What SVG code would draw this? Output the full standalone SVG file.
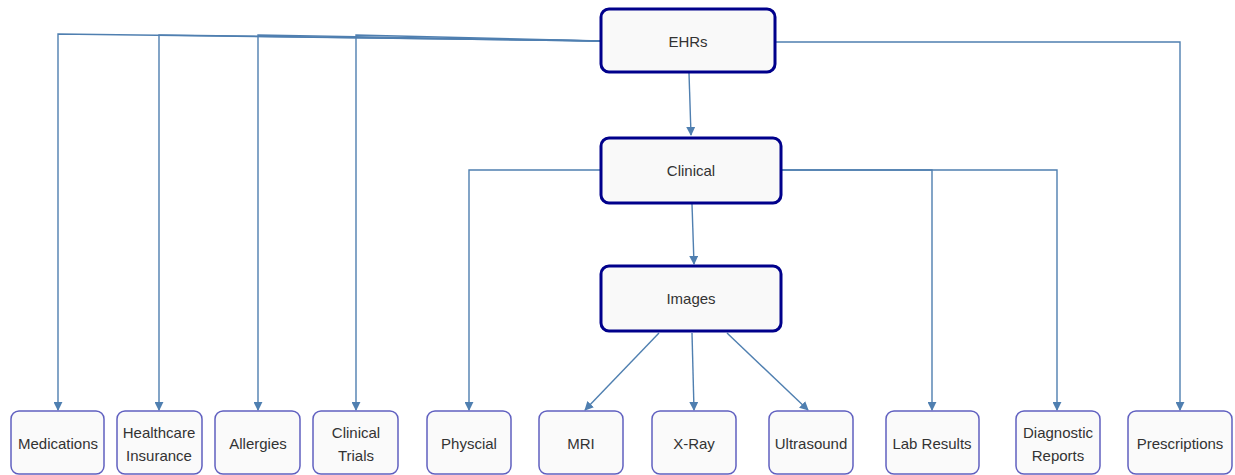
<svg xmlns="http://www.w3.org/2000/svg" width="1235" height="475" viewBox="0 0 1235 475">
<defs>
<style>
.main rect{fill:#f9f9f9;stroke:#00008b;stroke-width:3}
.leaf rect{fill:#fafafa;stroke:#6060c0;stroke-width:1.5}
text{font-family:"Liberation Sans",Arial,sans-serif;font-size:15px;fill:#333;text-anchor:middle;dominant-baseline:central}
.c path{fill:none;stroke:#4f7fb0;stroke-width:1.4;marker-end:url(#ah)}
</style>
<marker id="ah" viewBox="0 0 10 10" refX="9" refY="5" markerWidth="9" markerHeight="9" markerUnits="userSpaceOnUse" orient="auto">
<path d="M0,0 L10,5 L0,10 z" fill="#4f7fb0"/>
</marker>
</defs>
<rect width="1235" height="475" fill="#fff"/>
<g class="c">
<path d="M601,41 L58,34 L58,410"/>
<path d="M601,41 L159,35 L159,410"/>
<path d="M601,41 L258,35 L258,410"/>
<path d="M601,41 L356,35 L356,410"/>
<path d="M775,42 L1180,42 L1180,410"/>
<path d="M689,73 L691,135"/>
<path d="M601,170 L469,170 L469,410"/>
<path d="M782,170 L932,170 L932,410"/>
<path d="M782,170 L1057,170 L1057,410"/>
<path d="M692,204 L694,264"/>
<path d="M659,333 L585,410"/>
<path d="M692,333 L694,410"/>
<path d="M727,333 L808,410"/>
</g>
<g id="ehrs" class="main"><rect x="601" y="9" width="174" height="63" rx="8"/><text x="688" y="41">EHRs</text></g>
<g id="clinical" class="main"><rect x="601" y="138" width="180" height="65" rx="8"/><text x="691" y="170">Clinical</text></g>
<g id="images" class="main"><rect x="601" y="266" width="180" height="65" rx="8"/><text x="691" y="298">Images</text></g>
<g id="medications" class="leaf"><rect x="11" y="411" width="93" height="63" rx="8"/><text x="58" y="443">Medications</text></g>
<g id="insurance" class="leaf"><rect x="117" y="411" width="85" height="63" rx="8"/><text x="159" y="432">Healthcare</text><text x="159" y="455">Insurance</text></g>
<g id="allergies" class="leaf"><rect x="215" y="411" width="85" height="63" rx="8"/><text x="258" y="443">Allergies</text></g>
<g id="trials" class="leaf"><rect x="313" y="411" width="85" height="63" rx="8"/><text x="356" y="432">Clinical</text><text x="356" y="455">Trials</text></g>
<g id="physcial" class="leaf"><rect x="427" y="411" width="84" height="63" rx="8"/><text x="469" y="443">Physcial</text></g>
<g id="mri" class="leaf"><rect x="539" y="411" width="84" height="63" rx="8"/><text x="581" y="443">MRI</text></g>
<g id="xray" class="leaf"><rect x="652" y="411" width="84" height="63" rx="8"/><text x="694" y="443">X-Ray</text></g>
<g id="ultrasound" class="leaf"><rect x="769" y="411" width="84" height="63" rx="8"/><text x="811" y="443">Ultrasound</text></g>
<g id="lab" class="leaf"><rect x="886" y="411" width="93" height="63" rx="8"/><text x="932" y="443">Lab Results</text></g>
<g id="diagnostic" class="leaf"><rect x="1016" y="411" width="84" height="63" rx="8"/><text x="1058" y="432">Diagnostic</text><text x="1058" y="455">Reports</text></g>
<g id="prescriptions" class="leaf"><rect x="1128" y="411" width="104" height="63" rx="8"/><text x="1180" y="443">Prescriptions</text></g>
</svg>
